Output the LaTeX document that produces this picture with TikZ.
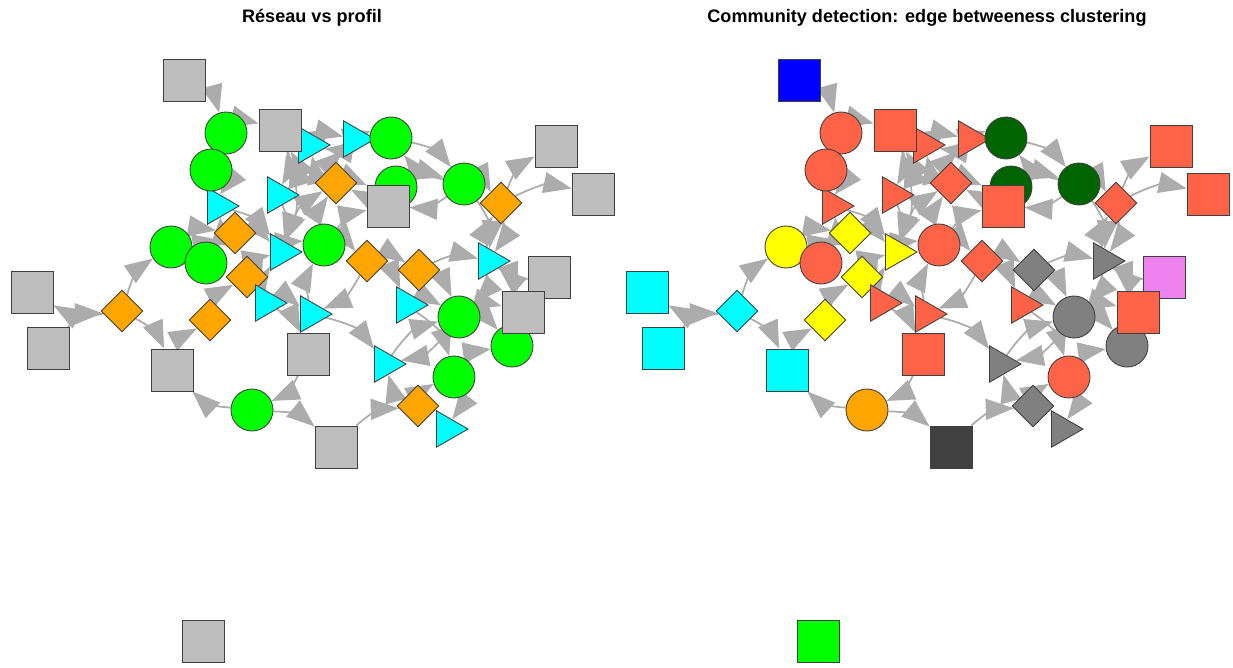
\documentclass[tikz,border=0pt]{standalone}
\usepackage{fontspec}
\setmainfont{Liberation Sans}
\usetikzlibrary{shapes.geometric,arrows.meta,backgrounds}

\definecolor{gry}{HTML}{BEBEBE}
\definecolor{grn}{HTML}{00FF00}
\definecolor{cyn}{HTML}{00FFFF}
\definecolor{org}{HTML}{FFA500}
\definecolor{tom}{HTML}{FF6347}
\definecolor{dgr}{HTML}{006400}
\definecolor{yel}{HTML}{FFFF00}
\definecolor{gmid}{HTML}{808080}
\definecolor{vio}{HTML}{EE82EE}
\definecolor{blu}{HTML}{0000FF}
\definecolor{dgy}{HTML}{404040}

\begin{document}
\begin{tikzpicture}[
    x=0.2mm, y=-0.2mm,
    vtx/.style={draw=black!75, line width=0.5pt, inner sep=0pt},
    sq/.style={vtx, rectangle, minimum size=8.4mm},
    ci/.style={vtx, circle, minimum size=8.4mm},
    di/.style={vtx, diamond, minimum width=8.4mm, minimum height=8.4mm},
    tr/.style={vtx, regular polygon, regular polygon sides=3, minimum size=8.4mm, rotate=-90},
    edge/.style={draw=gray!65, line width=1pt, -{Triangle[length=5.6mm,width=4.2mm]}, bend left=20},
    title/.style={font=\fontsize{10.3}{12}\selectfont\bfseries}
]
    \useasboundingbox (0,0) rectangle (1233,667);

    \node[title] (t1) at (312,18) {Réseau vs profil};
    \node[title] (t2) at (927,18) {Community detection: edge betweeness clustering};

    % vertices: number / x / y / shape / left colour / right colour
    \foreach \i/\x/\y/\s/\cl/\cr in {
        1/184/80/sq/gry/blu, 2/226/133/ci/grn/tom, 4/309/145/tr/cyn/tom,
        3/280/130/sq/gry/tom, 5/354/139/tr/cyn/tom, 6/391/138/ci/grn/dgr,
        16/218/206/tr/cyn/tom, 7/211/170/ci/grn/tom, 8/278/195/tr/cyn/tom,
        9/336/183/di/org/tom, 10/396/187/ci/grn/dgr, 11/388/206/sq/gry/tom,
        12/464/184/ci/grn/dgr, 13/556/146/sq/gry/tom, 14/593/194/sq/gry/tom,
        15/501/203/di/org/tom, 17/235/233/di/org/yel, 18/171/247/ci/grn/yel,
        19/206/263/ci/grn/tom, 20/281/252/tr/cyn/yel, 21/324/245/ci/grn/tom,
        22/367/261/di/org/tom, 23/419/270/di/org/gmid, 24/489/261/tr/cyn/gmid,
        25/549/277/sq/gry/vio, 26/247/277/di/org/yel, 27/32/292/sq/gry/cyn,
        28/122/311/di/org/cyn, 29/48/348/sq/gry/cyn, 30/210/320/di/org/yel,
        31/266/303/tr/cyn/tom, 32/311/314/tr/cyn/tom, 33/407/305/tr/cyn/tom,
        34/459/317/ci/grn/gmid, 36/512/346/ci/grn/gmid, 35/523/312/sq/gry/tom,
        37/308/354/sq/gry/tom, 38/172/370/sq/gry/cyn, 39/385/364/tr/cyn/gmid,
        40/454/377/ci/grn/tom, 41/252/410/ci/grn/org, 42/418/406/di/org/gmid,
        43/447/429/tr/cyn/gmid, 44/336/447/sq/gry/dgy, 45/203/641/sq/gry/grn}{
        \node[\s, fill=\cl] (l\i) at (\x,\y) {};
        \node[\s, fill=\cr] (r\i) at (\x+615,\y) {};
    }

    % arcs, drawn under the vertices
    \begin{scope}[on background layer]
        \foreach \a/\b in {
            1/2, 2/3, 3/8, 3/4, 4/5, 5/4, 5/6, 6/12, 12/6, 9/4, 9/3, 9/5,
            8/9, 10/12, 12/11, 12/15, 15/13, 15/14, 15/24, 24/15, 25/24,
            23/24, 24/34, 24/35, 34/35, 34/36, 40/36, 33/34, 22/33, 22/23,
            21/22, 21/11, 21/9, 20/21, 8/20, 16/20, 17/20, 19/17, 17/16,
            7/16, 18/17, 18/19, 26/20, 26/31, 31/20, 31/32, 32/21, 30/26,
            38/30, 28/38, 28/27, 29/28, 28/18, 37/41, 41/38, 41/44, 44/42,
            42/39, 42/43, 40/43, 42/40, 39/34, 34/39, 32/39, 33/40, 9/11,
            20/9, 3/20, 22/32, 31/37, 23/34, 12/24, 10/9}{
            \draw[edge] (l\a) to (l\b);
            \draw[edge] (r\a) to (r\b);
        }
    \end{scope}
\end{tikzpicture}
\end{document}
